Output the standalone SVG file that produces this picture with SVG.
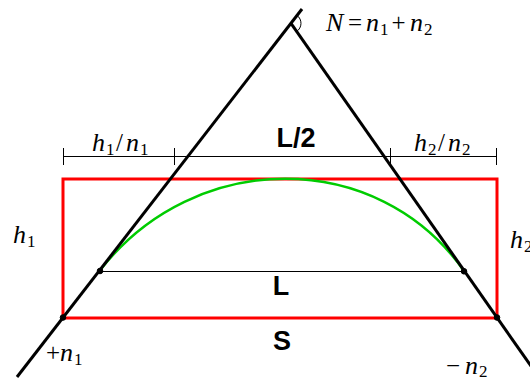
<svg xmlns="http://www.w3.org/2000/svg" width="530" height="381" viewBox="0 0 530 381">
<style>
.thick{stroke:#000;stroke-width:3;fill:none;stroke-linecap:butt}
.thin{stroke:#000;stroke-width:1;fill:none}
.red{stroke:#ff0000;stroke-width:3;fill:none}
.green{stroke:#00cc00;stroke-width:2.5;fill:none}
.dot{fill:#000;stroke:#000;stroke-width:1}
.m{font-style:italic;font-size:26px;fill:#000}
.r{font-style:normal;font-size:25px;fill:#000}
.s{font-style:normal;font-size:17px;fill:#000}
.b{font-family:"Liberation Sans",Arial,sans-serif;font-weight:bold;font-size:27px;fill:#000;text-anchor:middle}
</style>
<rect id="rect" class="red" x="63" y="179" width="434" height="139"/>
<g id="dimension">
<line class="thin" x1="63" y1="156.5" x2="497" y2="156.5"/>
<line class="thin" x1="63.5" y1="148" x2="63.5" y2="165"/>
<line class="thin" x1="174.5" y1="148" x2="174.5" y2="165"/>
<line class="thin" x1="390.5" y1="148" x2="390.5" y2="165"/>
<line class="thin" x1="496.5" y1="148" x2="496.5" y2="165"/>
</g>
<path id="arc" class="green" d="M99.5,271 C194.4,148 378.2,148 464,271"/>
<line id="chord" class="thin" x1="100" y1="271.5" x2="464" y2="271.5"/>
<g id="lines">
<line class="thick" x1="17" y1="377" x2="302" y2="9"/>
<line class="thick" x1="291" y1="23.3" x2="540" y2="379"/>
<path class="thin" d="M297.1,15.4 A10,10 0 0 1 296.7,31.5"/>
</g>
<g id="dots">
<circle class="dot" cx="63" cy="317.5" r="2.8"/>
<circle class="dot" cx="100" cy="271" r="2.8"/>
<circle class="dot" cx="464" cy="271.3" r="2.8"/>
<circle class="dot" cx="497" cy="317.5" r="2.8"/>
</g>
<g id="labels" font-family="Liberation Serif, Times New Roman, serif">
<text class="m" x="326" y="31">N</text><text class="r" x="348" y="31">=</text><text class="m" x="366" y="31">n</text><text class="s" x="380" y="35">1</text><text class="r" x="391.5" y="31">+</text><text class="m" x="410" y="31">n</text><text class="s" x="424" y="35">2</text>
<text class="m" x="92" y="151">h</text><text class="s" x="106" y="155">1</text><text class="r" x="116" y="151">/</text><text class="m" x="126" y="151">n</text><text class="s" x="140" y="155">1</text>
<text class="m" x="414" y="151">h</text><text class="s" x="428" y="155">2</text><text class="r" x="438" y="151">/</text><text class="m" x="448" y="151">n</text><text class="s" x="462" y="155">2</text>
<text class="m" x="13" y="243">h</text><text class="s" x="27" y="247">1</text>
<text class="m" x="510" y="248">h</text><text class="s" x="524" y="252">2</text>
<text class="r" x="46" y="361">+</text><text class="m" x="60" y="361">n</text><text class="s" x="74" y="365">1</text>
<text class="r" x="446" y="374">−</text><text class="m" x="465" y="374">n</text><text class="s" x="479" y="377">2</text>
</g>
<g id="boldlabels">
<text class="b" x="296" y="147">L/2</text>
<text class="b" x="281" y="295">L</text>
<text class="b" x="282" y="350">S</text>
</g>
</svg>
